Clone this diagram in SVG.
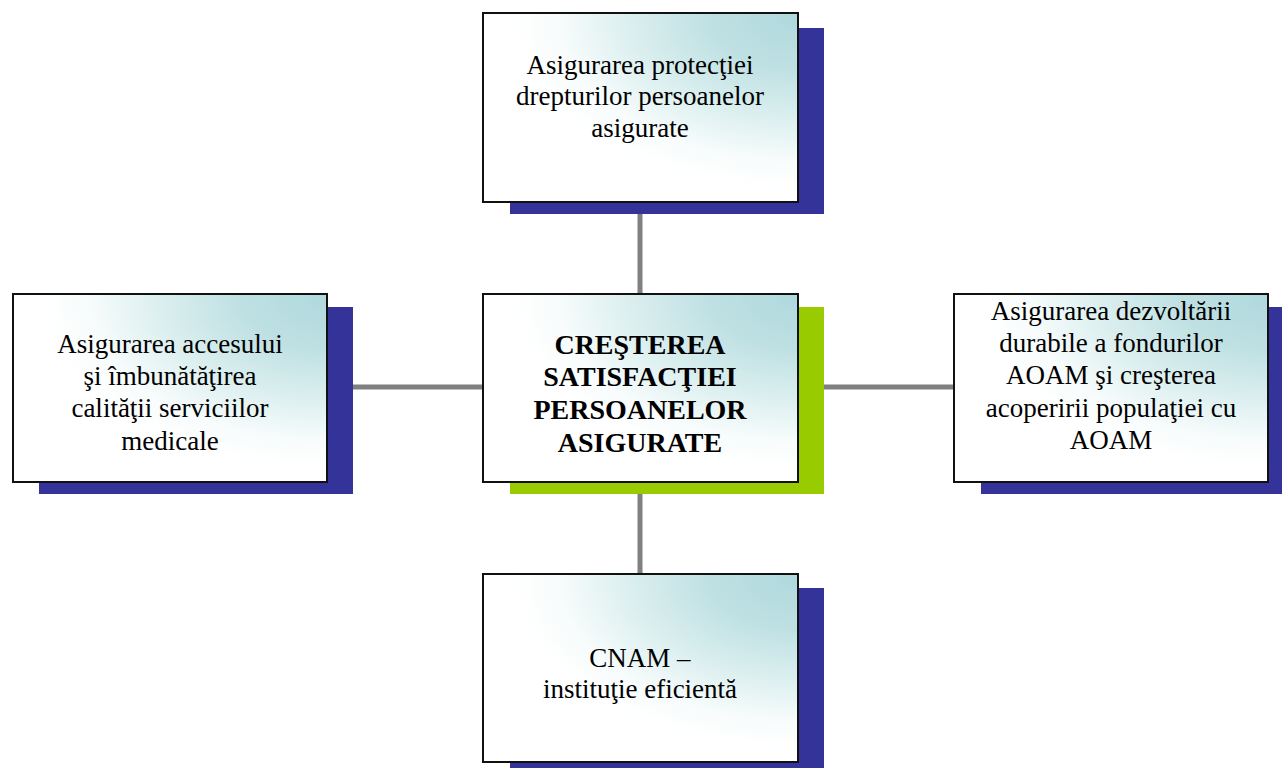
<svg xmlns="http://www.w3.org/2000/svg" width="1282" height="769" viewBox="0 0 1282 769">
<defs>
<radialGradient id="g" cx="1" cy="0.02" r="0.9" fx="1" fy="0.02">
<stop offset="0" stop-color="#b0d9dd"/>
<stop offset="0.3" stop-color="#bee0e3"/>
<stop offset="0.6" stop-color="#dcefef"/>
<stop offset="0.85" stop-color="#f8fcfc"/>
<stop offset="1" stop-color="#ffffff"/>
</radialGradient>
</defs>
<style>
.box{fill:url(#g);stroke:#111111;stroke-width:2}
.sh{fill:#333399}
.shg{fill:#99cc00}
.t{font-family:"Liberation Serif","Times New Roman",serif;font-size:27px;fill:#000;text-anchor:middle}
.b{font-weight:bold;font-size:28px}
.c{stroke:#808080;stroke-width:5;fill:none}
</style>
<rect width="1282" height="769" fill="#ffffff"/>
<g id="connectors">
<line class="c" x1="640" y1="202" x2="640" y2="294"/>
<line class="c" x1="640" y1="482" x2="640" y2="574"/>
<line class="c" x1="353" y1="387" x2="483" y2="387"/>
<line class="c" x1="824" y1="387" x2="954" y2="387"/>
</g>
<g id="top">
<rect class="sh" x="510" y="28" width="314" height="186"/>
<rect class="box" x="483" y="13" width="315" height="189"/>
<text class="t" x="640" y="74">Asigurarea protecţiei</text>
<text class="t" x="640" y="105">drepturilor persoanelor</text>
<text class="t" x="640" y="137">asigurate</text>
</g>
<g id="center">
<rect class="shg" x="510" y="307" width="314" height="187"/>
<rect class="box" x="483" y="294" width="315" height="188"/>
<text class="t b" x="640" y="354">CREŞTEREA</text>
<text class="t b" x="640" y="386">SATISFACŢIEI</text>
<text class="t b" x="640" y="419">PERSOANELOR</text>
<text class="t b" x="640" y="452">ASIGURATE</text>
</g>
<g id="left">
<rect class="sh" x="39" y="307" width="314" height="187"/>
<rect class="box" x="13" y="294" width="314" height="188"/>
<text class="t" x="170" y="353">Asigurarea accesului</text>
<text class="t" x="170" y="385">şi îmbunătăţirea</text>
<text class="t" x="170" y="417">calităţii serviciilor</text>
<text class="t" x="170" y="450">medicale</text>
</g>
<g id="right">
<rect class="sh" x="981" y="307" width="314" height="187"/>
<rect class="box" x="954" y="294" width="314" height="188"/>
<text class="t" x="1111" y="320">Asigurarea dezvoltării</text>
<text class="t" x="1111" y="352">durabile a fondurilor</text>
<text class="t" x="1111" y="384">AOAM şi creşterea</text>
<text class="t" x="1111" y="417">acoperirii populaţiei cu</text>
<text class="t" x="1111" y="449">AOAM</text>
</g>
<g id="bottom">
<rect class="sh" x="510" y="588" width="314" height="180"/>
<rect class="box" x="483" y="574" width="315" height="188"/>
<text class="t" x="640" y="667">CNAM –</text>
<text class="t" x="640" y="698">instituţie eficientă</text>
</g>
</svg>
